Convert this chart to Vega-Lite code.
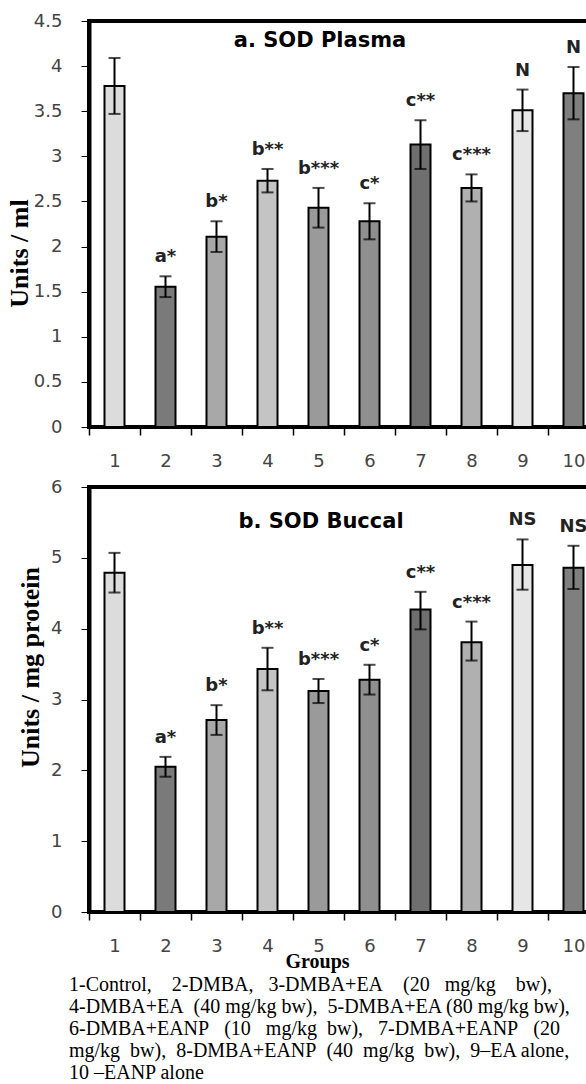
{
  "$schema": "https://vega.github.io/schema/vega-lite/v6.json",
  "padding": {"top": 10, "left": 4, "right": 0, "bottom": 0},
  "background": "white",
  "datasets": {
    "plasma": [
      {"g": "1", "mean": 3.78, "lo": 3.47, "hi": 4.09, "label": ""},
      {"g": "2", "mean": 1.555, "lo": 1.44, "hi": 1.67, "label": "a*"},
      {"g": "3", "mean": 2.11, "lo": 1.94, "hi": 2.28, "label": "b*"},
      {"g": "4", "mean": 2.73, "lo": 2.6, "hi": 2.86, "label": "b**"},
      {"g": "5", "mean": 2.43, "lo": 2.21, "hi": 2.65, "label": "b***"},
      {"g": "6", "mean": 2.28, "lo": 2.08, "hi": 2.48, "label": "c*"},
      {"g": "7", "mean": 3.13, "lo": 2.86, "hi": 3.4, "label": "c**"},
      {"g": "8", "mean": 2.65, "lo": 2.5, "hi": 2.8, "label": "c***"},
      {"g": "9", "mean": 3.51, "lo": 3.28, "hi": 3.74, "label": "N"},
      {"g": "10", "mean": 3.7, "lo": 3.41, "hi": 3.99, "label": "N"}
    ],
    "buccal": [
      {"g": "1", "mean": 4.79, "lo": 4.51, "hi": 5.07, "label": ""},
      {"g": "2", "mean": 2.05, "lo": 1.91, "hi": 2.19, "label": "a*"},
      {"g": "3", "mean": 2.71, "lo": 2.5, "hi": 2.92, "label": "b*"},
      {"g": "4", "mean": 3.43, "lo": 3.13, "hi": 3.73, "label": "b**"},
      {"g": "5", "mean": 3.12, "lo": 2.95, "hi": 3.29, "label": "b***"},
      {"g": "6", "mean": 3.28, "lo": 3.07, "hi": 3.49, "label": "c*"},
      {"g": "7", "mean": 4.27, "lo": 3.99, "hi": 4.52, "label": "c**"},
      {"g": "8", "mean": 3.81, "lo": 3.55, "hi": 4.1, "label": "c***"},
      {"g": "9", "mean": 4.9, "lo": 4.55, "hi": 5.26, "label": "NS"},
      {"g": "10", "mean": 4.86, "lo": 4.56, "hi": 5.17, "label": "NS"}
    ]
  },
  "title": {
    "text": [
      "1-Control,\u00a0\u00a0\u00a0 2-DMBA,\u00a0\u00a0 3-DMBA+EA\u00a0\u00a0\u00a0 (20\u00a0\u00a0 mg/kg\u00a0\u00a0\u00a0 bw),",
      "4-DMBA+EA\u00a0 (40 mg/kg bw),\u00a0 5-DMBA+EA (80 mg/kg bw),",
      "6-DMBA+EANP\u00a0\u00a0 (10\u00a0\u00a0 mg/kg\u00a0 bw),\u00a0\u00a0 7-DMBA+EANP\u00a0\u00a0 (20",
      "mg/kg\u00a0 bw),\u00a0 8-DMBA+EANP\u00a0 (40\u00a0 mg/kg\u00a0 bw),\u00a0 9\u2013EA alone,",
      "10 \u2013EANP alone"
    ],
    "orient": "bottom",
    "anchor": "start",
    "frame": "group",
    "font": "Liberation Serif",
    "fontSize": 20,
    "fontWeight": "normal",
    "color": "black",
    "lineHeight": 22,
    "dx": -20,
    "offset": 2
  },
  "vconcat": [
    {
      "width": 510,
      "height": 406,
      "data": {"name": "plasma"},
      "title": {
        "text": "a. SOD Plasma",
        "font": "DejaVu Sans",
        "fontSize": 21,
        "fontWeight": "bold",
        "color": "black",
        "anchor": "middle",
        "frame": "group",
        "baseline": "middle",
        "dx": -24,
        "offset": -50
      },
      "encoding": {
        "x": {
          "field": "g",
          "type": "ordinal",
          "sort": null,
          "scale": {"paddingInner": 0, "paddingOuter": 0},
          "axis": {
            "title": null,
            "labelAngle": 0,
            "tickBand": "extent",
            "tickSize": 8,
            "tickWidth": 1.5,
            "domainWidth": 3,
            "labelPadding": 17,
            "labelFont": "DejaVu Sans",
            "labelFontSize": 18,
            "labelColor": "#444"
          }
        }
      },
      "layer": [
        {
          "mark": {"type": "bar", "width": 20, "stroke": "black", "strokeWidth": 2},
          "encoding": {
            "y": {
              "field": "mean",
              "type": "quantitative",
              "scale": {"domain": [0, 4.5], "nice": false},
              "axis": {
                "values": [0, 0.5, 1, 1.5, 2, 2.5, 3, 3.5, 4, 4.5],
                "format": "~g",
                "title": "Units / ml",
                "titleFont": "Liberation Serif",
                "titleFontSize": 26,
                "titleFontWeight": "bold",
                "titleColor": "black",
                "titleBaseline": "alphabetic",
                "titleX": -62,
                "titleY": 232,
                "tickSize": 8,
                "tickWidth": 1,
                "domainWidth": 4,
                "labelPadding": 19,
                "labelFont": "DejaVu Sans",
                "labelFontSize": 18,
                "labelColor": "#444"
              }
            },
            "color": {
              "field": "g",
              "type": "nominal",
              "sort": null,
              "legend": null,
              "scale": {
                "domain": ["1", "2", "3", "4", "5", "6", "7", "8", "9", "10"],
                "range": ["#dcdcdc", "#7a7a7a", "#a8a8a8", "#c4c4c4", "#9a9a9a", "#8f8f8f", "#6f6f6f", "#b0b0b0", "#e6e6e6", "#7f7f7f"]
              }
            }
          }
        },
        {
          "mark": {"type": "rule", "strokeWidth": 2, "color": "black"},
          "encoding": {"y": {"field": "lo", "type": "quantitative"}, "y2": {"field": "hi"}}
        },
        {
          "mark": {"type": "tick", "thickness": 2, "size": 12, "color": "black"},
          "encoding": {"y": {"field": "lo", "type": "quantitative"}}
        },
        {
          "mark": {"type": "tick", "thickness": 2, "size": 12, "color": "black"},
          "encoding": {"y": {"field": "hi", "type": "quantitative"}}
        },
        {
          "mark": {"type": "text", "font": "DejaVu Sans", "fontWeight": "bold", "fontSize": 18, "color": "#222", "baseline": "middle", "dy": -19},
          "encoding": {"y": {"field": "hi", "type": "quantitative"}, "text": {"field": "label"}}
        }
      ]
    },
    {
      "width": 510,
      "height": 425,
      "data": {"name": "buccal"},
      "title": {
        "text": "b. SOD Buccal",
        "font": "DejaVu Sans",
        "fontSize": 21,
        "fontWeight": "bold",
        "color": "black",
        "anchor": "middle",
        "frame": "group",
        "baseline": "middle",
        "dx": -23,
        "offset": -65
      },
      "encoding": {
        "x": {
          "field": "g",
          "type": "ordinal",
          "sort": null,
          "scale": {"paddingInner": 0, "paddingOuter": 0},
          "axis": {
            "title": "Groups",
            "titleFont": "Liberation Serif",
            "titleFontSize": 20,
            "titleFontWeight": "bold",
            "titleColor": "black",
            "titleBaseline": "middle",
            "titleX": 228,
            "titleY": 49,
            "labelAngle": 0,
            "tickBand": "extent",
            "tickSize": 8,
            "tickWidth": 1.5,
            "domainWidth": 3,
            "labelPadding": 17,
            "labelFont": "DejaVu Sans",
            "labelFontSize": 18,
            "labelColor": "#444"
          }
        }
      },
      "layer": [
        {
          "mark": {"type": "bar", "width": 20, "stroke": "black", "strokeWidth": 2},
          "encoding": {
            "y": {
              "field": "mean",
              "type": "quantitative",
              "scale": {"domain": [0, 6], "nice": false},
              "axis": {
                "values": [0, 1, 2, 3, 4, 5, 6],
                "format": "~g",
                "title": "Units / mg protein",
                "titleFont": "Liberation Serif",
                "titleFontSize": 26,
                "titleFontWeight": "bold",
                "titleColor": "black",
                "titleBaseline": "alphabetic",
                "titleX": -51,
                "titleY": 180,
                "tickSize": 8,
                "tickWidth": 1,
                "domainWidth": 4,
                "labelPadding": 19,
                "labelFont": "DejaVu Sans",
                "labelFontSize": 18,
                "labelColor": "#444"
              }
            },
            "color": {
              "field": "g",
              "type": "nominal",
              "sort": null,
              "legend": null,
              "scale": {
                "domain": ["1", "2", "3", "4", "5", "6", "7", "8", "9", "10"],
                "range": ["#dcdcdc", "#7a7a7a", "#a8a8a8", "#c4c4c4", "#9a9a9a", "#8f8f8f", "#6f6f6f", "#b0b0b0", "#e6e6e6", "#7f7f7f"]
              }
            }
          }
        },
        {
          "mark": {"type": "rule", "strokeWidth": 2, "color": "black"},
          "encoding": {"y": {"field": "lo", "type": "quantitative"}, "y2": {"field": "hi"}}
        },
        {
          "mark": {"type": "tick", "thickness": 2, "size": 12, "color": "black"},
          "encoding": {"y": {"field": "lo", "type": "quantitative"}}
        },
        {
          "mark": {"type": "tick", "thickness": 2, "size": 12, "color": "black"},
          "encoding": {"y": {"field": "hi", "type": "quantitative"}}
        },
        {
          "mark": {"type": "text", "font": "DejaVu Sans", "fontWeight": "bold", "fontSize": 18, "color": "#222", "baseline": "middle", "dy": -19},
          "encoding": {"y": {"field": "hi", "type": "quantitative"}, "text": {"field": "label"}}
        }
      ]
    }
  ],
  "spacing": 60,
  "bounds": "flush",
  "resolve": {"scale": {"color": "independent"}},
  "config": {
    "view": {"stroke": "black", "strokeWidth": 4},
    "axis": {"grid": false, "domainColor": "black", "tickColor": "black"}
  }
}
